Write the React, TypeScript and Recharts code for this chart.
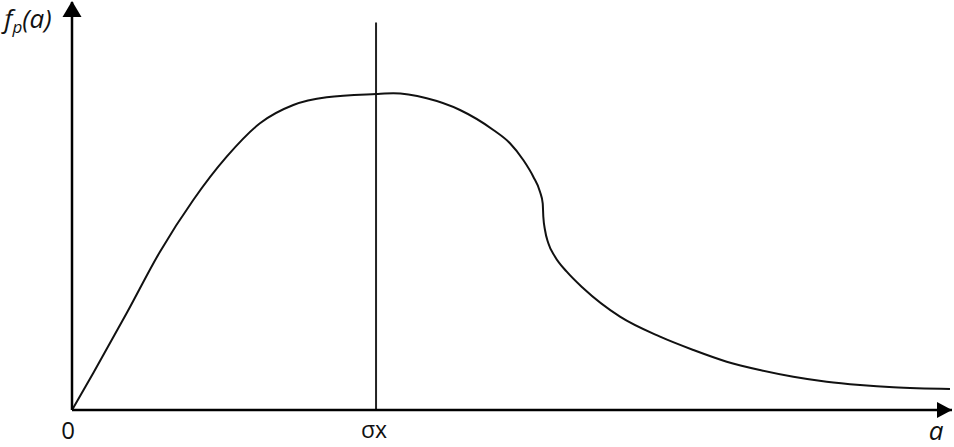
import { LineChart, Line, XAxis, YAxis, ReferenceLine, ReferenceDot, Label } from 'recharts'

// curve: a (x) against f_p(a) (y), arbitrary units
const aValues = [
  0, 0.242, 0.622, 1.0, 1.378, 1.758, 2.136, 2.515, 2.894, 3.455, 3.651, 4.031, 4.409, 4.788,
  4.977, 5.128, 5.242, 5.318, 5.349, 5.356, 5.375, 5.413, 5.489, 5.622, 5.81, 6.227,
  6.682, 7.06, 7.44, 7.818, 8.197, 8.576, 8.955, 9.333, 9.977
]
const fValues = [
  0, 0.907, 2.377, 3.88, 5.147, 6.208, 7.027, 7.475, 7.664, 7.745, 7.762, 7.64, 7.353, 6.863,
  6.537, 6.127, 5.718, 5.35, 5.066, 4.738, 4.412, 4.086, 3.757, 3.39, 2.983, 2.287,
  1.797, 1.471, 1.184, 0.98, 0.816, 0.694, 0.613, 0.556, 0.515
]
const SIGMA_X = 3.455
const SIGMA_TOP = 9.5
const X_MAX = 10
const Y_MAX = 10
const xTicks = [0, SIGMA_X]

const data = aValues.map((a, i) => ({ a, f: fValues[i] }))

const FONT = '"Open Sans", "DejaVu Sans", sans-serif'

const XTick = ({ x, y, payload }: any) => {
  if (payload.value === 0) {
    return (
      <text x={x - 4} y={y + 21} textAnchor="middle" fontFamily={FONT} fontSize={24} fill="#111">
        0
      </text>
    )
  }
  return (
    <text x={x - 2} y={y + 20} textAnchor="middle" fontFamily={FONT} fontSize={23} fill="#111">
      σx
    </text>
  )
}

// arrow heads drawn at data points through the chart scales
const ArrowRight = ({ cx, cy }: any) => (
  <polygon points={`${cx},${cy} ${cx - 15},${cy - 8} ${cx - 15},${cy + 8}`} fill="#000" />
)
const ArrowUp = ({ cx, cy }: any) => (
  <polygon points={`${cx},${cy - 1} ${cx - 9.5},${cy + 15} ${cx + 9.5},${cy + 15}`} fill="#000" />
)

export default function App() {
  return (
    <div style={{ position: 'absolute', left: 0, top: 0, background: '#fff' }}>
      <LineChart width={954} height={447} data={data} margin={{ top: 2, right: 2, left: 0, bottom: 0 }}>
        <XAxis
          dataKey="a"
          type="number"
          domain={[0, X_MAX]}
          ticks={xTicks}
          tick={<XTick />}
          tickLine={false}
          axisLine={{ stroke: '#000', strokeWidth: 2.5 }}
          height={37}
        >
          <Label
            content={({ viewBox }: any) => (
              <text
                x={viewBox.x + viewBox.width - 16}
                y={viewBox.y + 30}
                textAnchor="middle"
                fontFamily={FONT}
                fontSize={26}
                fontStyle="italic"
                fill="#111"
              >
                a
              </text>
            )}
          />
        </XAxis>
        <YAxis
          type="number"
          domain={[0, Y_MAX]}
          ticks={[]}
          tickLine={false}
          axisLine={{ stroke: '#000', strokeWidth: 2.5 }}
          width={72}
        >
          <Label
            content={({ viewBox }: any) => (
              <text
                x={viewBox.x + 28}
                y={viewBox.y + 26}
                textAnchor="middle"
                fontFamily={FONT}
                fontSize={26}
                fontStyle="italic"
                fill="#111"
              >
                f
                <tspan fontSize={17} dy={5}>p</tspan>
                <tspan dy={-5}>(a)</tspan>
              </text>
            )}
          />
        </YAxis>
        <ReferenceLine
          segment={[{ x: SIGMA_X, y: 0 }, { x: SIGMA_X, y: SIGMA_TOP }]}
          stroke="#222"
          strokeWidth={2}
        />
        <Line
          type="monotone"
          dataKey="f"
          stroke="#111"
          strokeWidth={2}
          dot={false}
          isAnimationActive={false}
        />
        <ReferenceDot x={X_MAX} y={0} shape={<ArrowRight />} ifOverflow="visible" />
        <ReferenceDot x={0} y={Y_MAX} shape={<ArrowUp />} ifOverflow="visible" />
      </LineChart>
    </div>
  )
}
